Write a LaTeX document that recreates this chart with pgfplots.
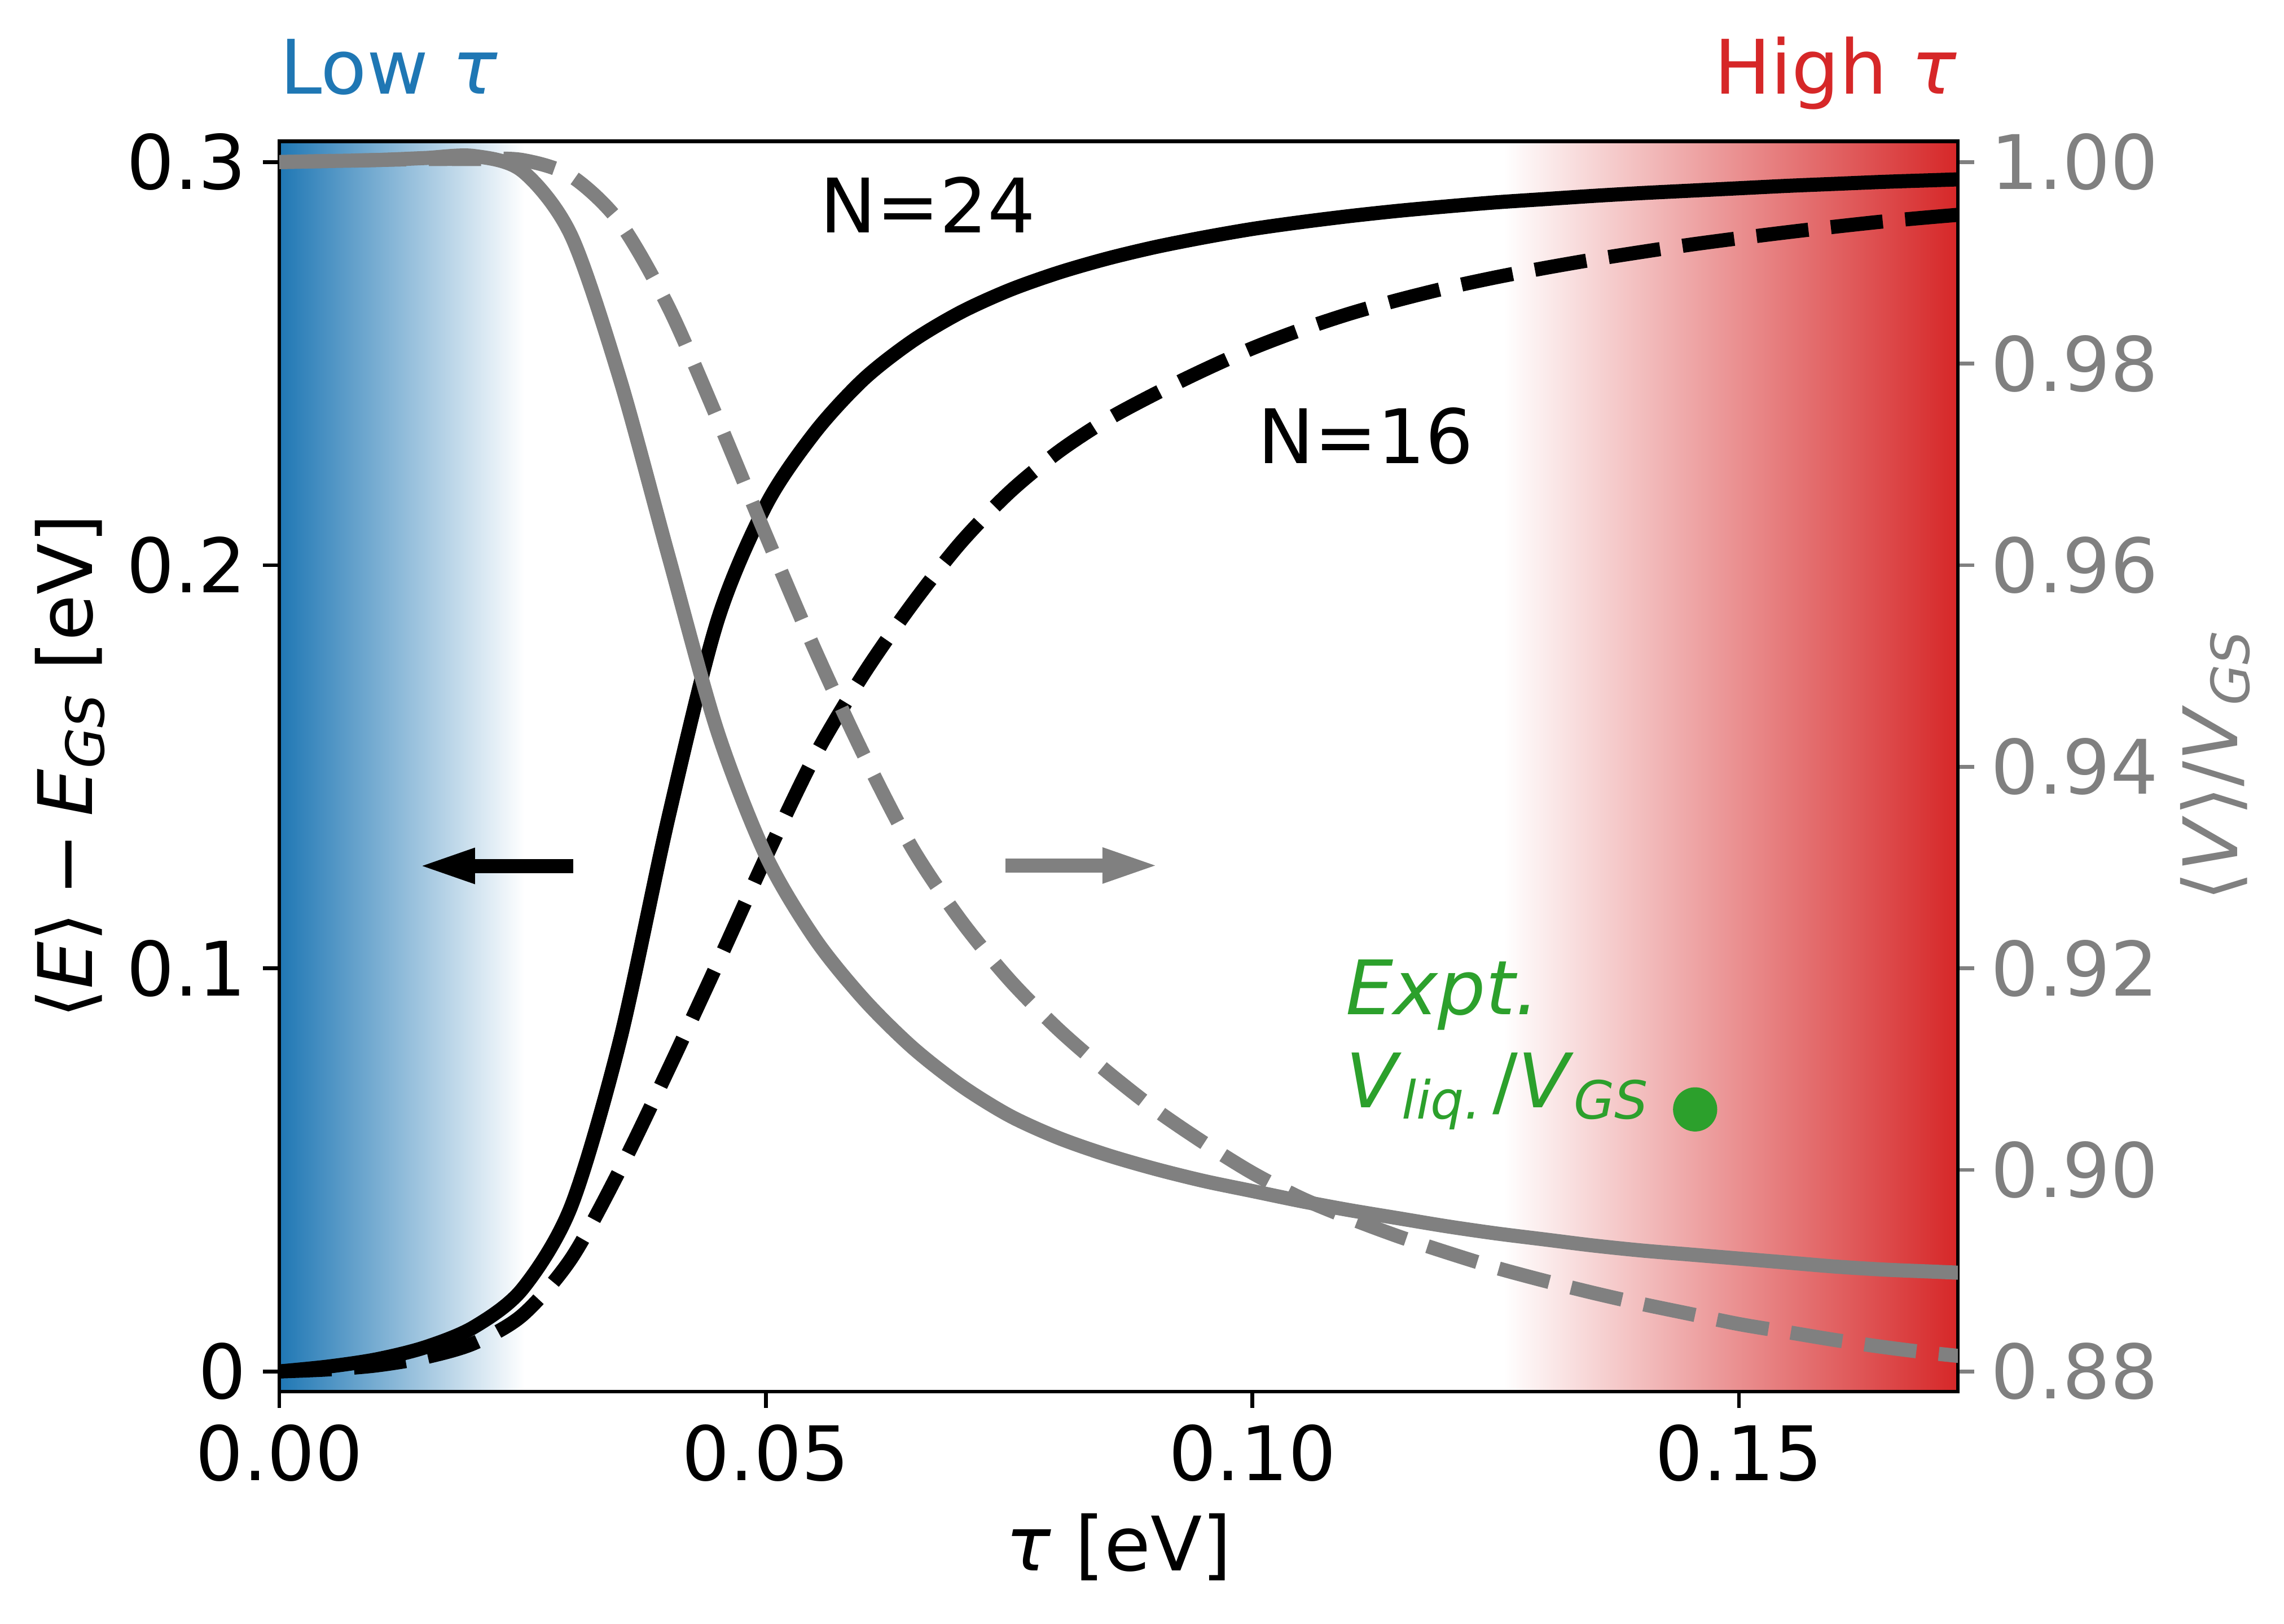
\documentclass[border=0pt]{standalone}
\usepackage{fontspec}
\setmainfont{DejaVu Sans}[ItalicFont={DejaVu Sans Oblique}]
\usepackage{pgfplots}
\pgfplotsset{compat=1.18}
\usetikzlibrary{arrows.meta}
\definecolor{mblue}{HTML}{1F77B4}
\definecolor{mred}{HTML}{D62728}
\definecolor{mgreen}{HTML}{2CA02C}
\definecolor{mgray}{HTML}{808080}
\newcommand\sub[1]{\raisebox{-2.5pt}{\fontsize{11.2}{13}\selectfont #1}}

\pgfplotstableread{
x      E24     E16
0      0.0000  0.0000
0.005  0.0012  0.0005
0.010  0.0030  0.0015
0.015  0.0060  0.0035
0.020  0.0110  0.0070
0.025  0.0205  0.0140
0.030  0.0410  0.0280
0.035  0.0820  0.0500
0.040  0.1375  0.0750
0.045  0.1860  0.1010
0.050  0.2148  0.1275
0.055  0.2328  0.1525
0.060  0.2460  0.1728
0.065  0.2555  0.1902
0.070  0.2627  0.2055
0.075  0.2682  0.2180
0.080  0.2725  0.2280
0.085  0.2760  0.2360
0.090  0.2789  0.2425
0.095  0.2813  0.2484
0.100  0.2834  0.2538
0.105  0.2851  0.2584
0.110  0.2866  0.2624
0.115  0.2879  0.2658
0.120  0.2890  0.2688
0.125  0.2900  0.2714
0.130  0.2908  0.2737
0.135  0.2916  0.2758
0.140  0.2923  0.2777
0.145  0.2929  0.2795
0.150  0.2935  0.2811
0.155  0.2941  0.2826
0.160  0.2946  0.2840
0.165  0.2951  0.2853
0.170  0.2955  0.2864
0.175  0.2959  0.2874
}\energy

\pgfplotstableread{
x      V24     V16
0      1.0000  1.0000
0.005  1.0001  1.0001
0.010  1.0002  1.0002
0.015  1.0004  1.0003
0.020  1.0006  1.0003
0.025  0.9991  1.0002
0.030  0.9927  0.9986
0.035  0.9785  0.9940
0.040  0.9609  0.9856
0.045  0.9436  0.9746
0.050  0.9312  0.9630
0.055  0.9230  0.9517
0.060  0.9170  0.9413
0.065  0.9122  0.9320
0.070  0.9084  0.9248
0.075  0.9054  0.9189
0.080  0.9032  0.9140
0.085  0.9015  0.9098
0.090  0.9001  0.9060
0.095  0.8989  0.9027
0.100  0.8979  0.8997
0.105  0.8969  0.8972
0.110  0.8960  0.8952
0.115  0.8952  0.8934
0.120  0.8944  0.8918
0.125  0.8937  0.8903
0.130  0.8931  0.8890
0.135  0.8925  0.8878
0.140  0.8920  0.8867
0.145  0.8916  0.8857
0.150  0.8912  0.8847
0.155  0.8908  0.8839
0.160  0.8904  0.8831
0.165  0.8901  0.8824
0.170  0.8899  0.8818
0.175  0.8897  0.8813
}\volume

\begin{document}
\begin{tikzpicture}[font=\fontsize{16}{19.2}\selectfont]
\begin{axis}[
  name=ax1,
  width=357pt, height=266pt, scale only axis,
  xmin=0, xmax=0.1725, ymin=-0.005, ymax=0.30517,
  axis line style={line width=0.8pt},
  tick align=outside, major tick length=3.5pt,
  tick style={line width=0.8pt, black},
  xtick={0,0.05,0.1,0.15}, xtick pos=bottom,
  ytick={0,0.1,0.2,0.3}, ytick pos=left,
  scaled ticks=false,
  /pgf/number format/assume math mode=true,
  xticklabel style={/pgf/number format/.cd, fixed, fixed zerofill, precision=2},
  yticklabel style={/pgf/number format/.cd, fixed, precision=1},
  xlabel={\textit{τ} [eV]},
  ylabel={⟨\textit{E}⟩\kern0.22em−\kern0.22em\textit{E}\sub{\textit{GS}} [eV]},
  ylabel shift=-2.2pt,
  axis on top,
]
\addplot[draw=none, left color=mblue, right color=white, forget plot]
  coordinates {(0,-0.005) (0.0252,-0.005) (0.0252,0.30517) (0,0.30517)} -- cycle;
\addplot[draw=none, left color=white, right color=mred, forget plot]
  coordinates {(0.1258,-0.005) (0.1725,-0.005) (0.1725,0.30517) (0.1258,0.30517)} -- cycle;
\addplot[black, line width=3pt, smooth] table[x=x, y=E24] {\energy};
\addplot[black, line width=3pt, smooth, dash pattern=on 11.1pt off 4.8pt] table[x=x, y=E16] {\energy};
\draw[black, line width=3pt, -{Triangle[length=11.2pt, width=7.8pt, line width=0pt]}]
  (axis cs:0.0302,0.1254) -- (axis cs:0.0147,0.1254);
\node[anchor=base west, inner sep=0pt] at (axis cs:0.0555,0.2825) {N=24};
\node[anchor=base west, inner sep=0pt] at (axis cs:0.1005,0.2253) {N=16};
\end{axis}

\begin{axis}[
  width=357pt, height=266pt, scale only axis,
  xmin=0, xmax=0.1725, ymin=0.878, ymax=1.00207,
  hide x axis, axis y line*=right,
  y axis line style={line width=0.8pt, black},
  tick align=outside, major tick length=3.5pt,
  tick style={line width=0.8pt, mgray},
  ytick={0.88,0.90,0.92,0.94,0.96,0.98,1.00},
  scaled ticks=false,
  /pgf/number format/assume math mode=true,
  yticklabel style={text=mgray, /pgf/number format/.cd, fixed, fixed zerofill, precision=2},
  ylabel={⟨\textit{V}⟩/\textit{V}\sub{\textit{GS}}},
  ylabel style={text=mgray},
  ylabel shift=-2.2pt,
]
\addplot[mgray, line width=3pt, smooth] table[x=x, y=V24] {\volume};
\addplot[mgray, line width=3pt, smooth, dash pattern=on 11.1pt off 4.8pt] table[x=x, y=V16] {\volume};
\draw[mgray, line width=3pt, -{Triangle[length=11.2pt, width=7.8pt, line width=0pt]}]
  (axis cs:0.0746,0.9302) -- (axis cs:0.0900,0.9302);
\addplot[mgreen, only marks, mark=*, mark size=4.5pt, mark options={draw=none, fill=mgreen}]
  coordinates {(0.1455,0.9060)};
\node[anchor=base west, inner sep=0pt, text=mgreen] at (axis cs:0.1095,0.9154) {\textit{Expt.}};
\node[anchor=base west, inner sep=0pt, text=mgreen] at (axis cs:0.1095,0.9062)
  {\textit{V}\sub{\textit{liq.}}\kern2.5pt/\textit{V}\sub{\textit{GS}}};
\end{axis}

\node[anchor=base west, inner sep=0pt, text=mblue] at ([yshift=10pt]ax1.north west) {Low \textit{τ}};
\node[anchor=base east, inner sep=0pt, text=mred] at ([yshift=10pt]ax1.north east) {High \textit{τ}};

\pgfresetboundingbox
\path ([shift={(-59.4pt,-49.44pt)}]ax1.south west) rectangle ([shift={(426.36pt,296.04pt)}]ax1.south west);
\end{tikzpicture}
\end{document}
